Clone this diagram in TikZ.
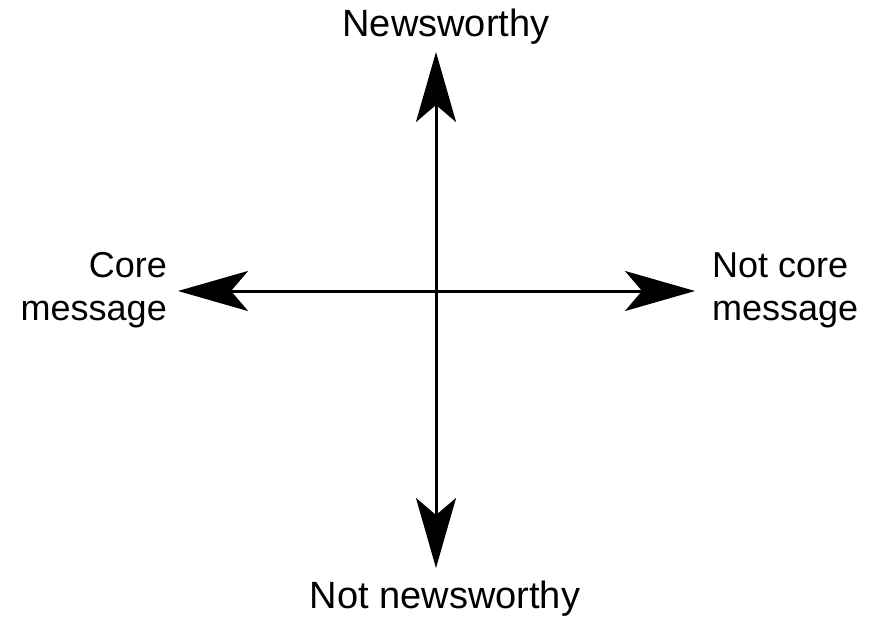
\documentclass[tikz,border=0pt]{standalone}
\usepackage{fontspec}
\setmainfont{Liberation Sans}
\usetikzlibrary{arrows.meta,positioning}
\tikzset{
  axisarrow/.style={{Stealth[length=70pt,width=40pt,inset=17pt]}-{Stealth[length=70pt,width=40pt,inset=17pt]},line width=3pt,draw=black},
  lab/.style={font=\fontsize{38}{43}\selectfont,inner sep=0pt},
  sidelab/.style={lab,font=\fontsize{36}{43}\selectfont}
}
\begin{document}
\begin{tikzpicture}[x=1pt,y=-1pt]
  \useasboundingbox (0,0) rectangle (872,618);
  % axis end points
  \coordinate (top) at (436,52);
  \coordinate (bot) at (436,568);
  \coordinate (lft) at (178,291);
  \coordinate (rgt) at (695,291);
  \draw[axisarrow] (bot) -- (top);
  \draw[axisarrow] (lft) -- (rgt);
  % labels
  \node[lab,anchor=base] (news) at (446,37) {Newsworthy};
  \node[lab,anchor=base] (notnews) at (445,608) {Not newsworthy};
  \node[sidelab,align=right,anchor=east] (core) at (167,290) {Core\\message};
  \node[sidelab,align=left,anchor=west] (notcore) at (712,290) {Not core\\message};
\end{tikzpicture}
\end{document}
